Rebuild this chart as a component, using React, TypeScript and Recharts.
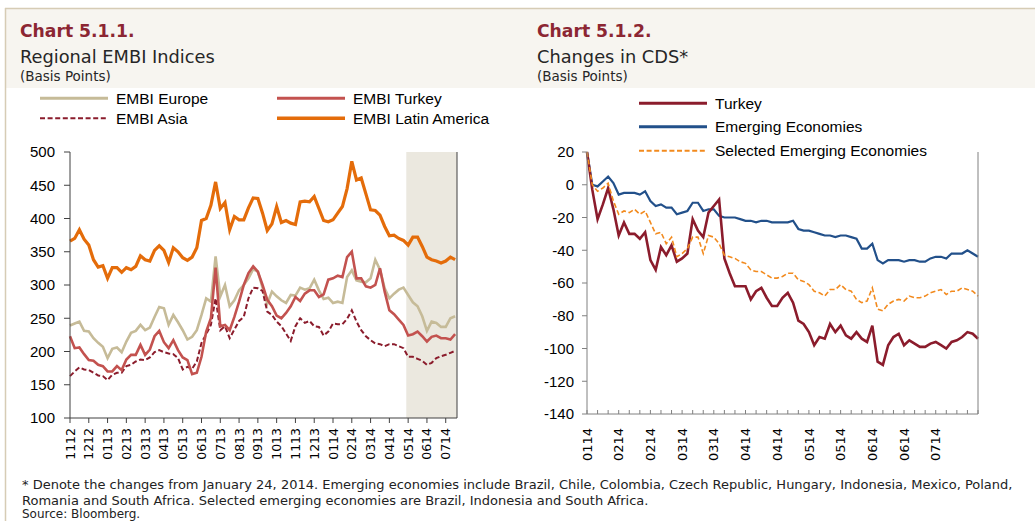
import { LineChart, Line, XAxis, YAxis, ReferenceArea } from 'recharts'

// ---- Chart 5.1.1: Regional EMBI indices, weekly readings (4 per month) ----
const embiMonths = [
  '1112', '1212', '0113', '0213', '0313', '0413', '0513', '0613', '0713', '0813', '0913',
  '1013', '1113', '1213', '0114', '0214', '0314', '0414', '0514', '0614', '0714',
]
const embiTicks = [100, 150, 200, 250, 300, 350, 400, 450, 500]

const embiEurope = [
  239, 242, 245, 231, 230, 220, 213, 207, 190, 204,
  206, 199, 215, 228, 231, 240, 232, 236, 252, 267,
  265, 240, 255, 244, 232, 218, 222, 232, 255, 280,
  275, 343, 283, 300, 268, 277, 292, 300, 310, 324,
  320, 296, 272, 290, 283, 277, 273, 285, 284, 296,
  293, 295, 308, 292, 279, 281, 273, 275, 273, 312,
  322, 307, 305, 304, 310, 338, 323, 295, 280, 287,
  293, 296, 285, 274, 268, 253, 231, 245, 243, 237,
  237, 250, 253,
]
const embiTurkey = [
  223, 205, 206, 196, 187, 186, 180, 178, 170, 170,
  178, 172, 188, 195, 195, 210, 195, 203, 223, 231,
  214, 205, 217, 202, 191, 187, 166, 168, 192, 230,
  250, 326, 238, 240, 232, 252, 275, 300, 318, 328,
  320, 300, 278, 268, 254, 250, 258, 268, 282, 276,
  287, 292, 292, 282, 286, 308, 310, 314, 312, 342,
  350, 310, 310, 298, 296, 300, 325, 290, 262, 256,
  248, 240, 224, 226, 230, 223, 215, 222, 224, 220,
  220, 218, 226,
]
const embiAsia = [
  163, 170, 176, 173, 172, 168, 164, 163, 157, 165,
  168, 168, 178, 180, 185, 188, 187, 191, 199, 202,
  199, 197, 196, 190, 173, 177, 174, 185, 213, 226,
  240, 280, 232, 238, 220, 233, 246, 252, 280, 296,
  295, 291, 260, 255, 245, 238, 227, 216, 238, 250,
  243, 246, 238, 237, 224, 230, 242, 241, 241, 249,
  262, 245, 232, 223, 217, 212, 211, 208, 211, 211,
  208, 205, 192, 192, 189, 186, 180, 183, 190, 193,
  195, 198, 201,
]
const embiLatam = [
  366, 370, 383, 369, 360, 338, 327, 329, 310, 326,
  326, 319, 326, 323, 328, 344, 338, 336, 352, 359,
  352, 334, 356, 350, 341, 337, 342, 356, 397, 400,
  420, 455, 415, 424, 383, 403, 398, 398, 416, 431,
  430, 408, 382, 392, 418, 394, 397, 393, 391, 425,
  426, 425, 433, 415, 397, 395, 398, 408, 418, 445,
  486, 458, 461, 437, 413, 412, 405, 388, 374, 375,
  370, 367, 360, 372, 372, 358, 342, 338, 336, 333,
  336, 342, 338,
]

// ---- Chart 5.1.2: changes in CDS, one reading every ~1.7 business days ----
const cdsDates = ['0114', '0214', '0214', '0314', '0314', '0414', '0414', '0514', '0514', '0614', '0614', '0714']
const cdsTicks = [20, 0, -20, -40, -60, -80, -100, -120, -140]

const cdsTurkey = [
  20, -3, -21, -12, -2, -15, -31, -23, -30, -30,
  -33, -29, -46, -52, -38, -43, -37, -47, -45, -42,
  -21, -28, -32, -17, -13, -9, -45, -54, -62, -62,
  -62, -70, -65, -63, -69, -74, -74, -69, -66, -72,
  -83, -85, -90, -98, -93, -94, -85, -90, -86, -92,
  -94, -90, -94, -96, -86, -108, -110, -98, -93, -91,
  -98, -95, -97, -99, -99, -97, -96, -98, -100, -96,
  -95, -93, -90, -91, -94,
]
const cdsEmerging = [
  20, 0, -1, 2, 5, 1, -6, -5, -5, -5,
  -6, -4, -10, -13, -12, -14, -14, -18, -17, -16,
  -11, -11, -16, -15, -15, -19, -20, -20, -20, -21,
  -22, -22, -23, -22, -22, -23, -23, -23, -23, -22,
  -27, -28, -28, -29, -30, -31, -31, -32, -31, -31,
  -32, -33, -39, -39, -36, -46, -48, -46, -46, -46,
  -47, -46, -46, -47, -47, -45, -44, -44, -45, -42,
  -42, -42, -40, -42, -44,
]
const cdsSelected = [
  20, 0, -4, -2, 1, -10, -18, -16, -17, -15,
  -18, -16, -23, -30, -29, -36, -32, -44, -42, -39,
  -32, -32, -42, -31, -32, -36, -43, -44, -45, -47,
  -48, -52, -53, -53, -55, -57, -57, -56, -54, -54,
  -58, -59, -61, -65, -66, -68, -64, -64, -61, -64,
  -65, -70, -72, -71, -63, -76, -77, -73, -71, -70,
  -71, -68, -69, -69, -68, -66, -65, -64, -67, -65,
  -65, -63, -64, -65, -68,
]

const embiData = embiEurope.map((v, i) => ({
  t: i / 4,
  europe: v,
  turkey: embiTurkey[i],
  asia: embiAsia[i],
  latam: embiLatam[i],
}))

const cdsData = cdsTurkey.map((v, i) => ({
  t: i,
  turkey: v,
  emerging: cdsEmerging[i],
  selected: cdsSelected[i],
}))

const cdsTickPositions = Array.from({ length: 38 }, (_, i) => i * 2)

const MAROON = '#8C2633'
const TAN = '#C6BB98'
const RED = '#C3524F'
const ORANGE = '#E46C0A'
const DARK_RED = '#8B1C2C'
const BLUE = '#22508A'
const LIGHT_ORANGE = '#F28A1E'

const titleFont = '"DejaVu Sans", sans-serif'
const axisFont = '"Liberation Sans", Arial, sans-serif'

const EMBI_AXIS_Y = 278
const CDS_AXIS_Y = 274

function EmbiTick(props: any) {
  const { x, payload } = props
  const y = EMBI_AXIS_Y + 10
  return (
    <text
      x={x}
      y={y}
      dy="0.36em"
      textAnchor="end"
      transform={`rotate(-90 ${x} ${y})`}
      fontFamily={titleFont}
      fontSize={12.5}
      fill="#000"
    >
      {embiMonths[payload.value]}
    </text>
  )
}

function CdsTick(props: any) {
  const { x, payload } = props
  const i = payload.value as number
  const label = i % 6 === 0 ? cdsDates[i / 6] : null
  const y = CDS_AXIS_Y + 14
  return (
    <g>
      <line x1={x} x2={x} y1={CDS_AXIS_Y} y2={CDS_AXIS_Y - 4} stroke="#808080" strokeWidth={1} />
      {label && (
        <text
          x={x}
          y={y}
          dy="0.36em"
          textAnchor="end"
          transform={`rotate(-90 ${x} ${y})`}
          fontFamily={titleFont}
          fontSize={13}
          fill="#000"
        >
          {label}
        </text>
      )}
    </g>
  )
}

function LegendRow({ x, y, color, width, dash, label }: any) {
  return (
    <g>
      <line x1={x} x2={x + 68} y1={y} y2={y} stroke={color} strokeWidth={width} strokeDasharray={dash} />
      <text x={x + 76} y={y + 5.5} fontFamily={axisFont} fontSize={15.5} fill="#000">
        {label}
      </text>
    </g>
  )
}

function Decorations() {
  return (
    <svg width={1035} height={521} style={{ position: 'absolute', left: 0, top: 0 }}>
      <rect x={6} y={9} width={1029} height={79} fill="#F7F5F0" />
      <line x1={5} x2={1035} y1={8.5} y2={8.5} stroke="#D6CCB5" strokeWidth={1.5} />
      <line x1={5.5} x2={5.5} y1={8} y2={521} stroke="#D6CCB5" strokeWidth={1.5} />

      <text x={20} y={36.5} fontFamily={titleFont} fontWeight="bold" fontSize={17.2} fill={MAROON}>
        Chart 5.1.1.
      </text>
      <text x={20} y={62.5} fontFamily={titleFont} fontSize={17.8} fill="#262626">
        Regional EMBI Indices
      </text>
      <text x={20} y={81} fontFamily={titleFont} fontSize={13.5} fill="#262626">
        (Basis Points)
      </text>

      <text x={537} y={36.5} fontFamily={titleFont} fontWeight="bold" fontSize={17.2} fill={MAROON}>
        Chart 5.1.2.
      </text>
      <text x={537} y={62.5} fontFamily={titleFont} fontSize={17.8} fill="#262626">
        Changes in CDS*
      </text>
      <text x={537} y={81} fontFamily={titleFont} fontSize={13.5} fill="#262626">
        (Basis Points)
      </text>

      <LegendRow x={40} y={98.3} color={TAN} width={3} label="EMBI Europe" />
      <LegendRow x={40} y={118.3} color={DARK_RED} width={2} dash="5 2.6" label="EMBI Asia" />
      <LegendRow x={277} y={98.3} color={RED} width={3} label="EMBI Turkey" />
      <LegendRow x={277} y={118.3} color={ORANGE} width={3.5} label="EMBI Latin America" />

      <LegendRow x={639} y={103.3} color={DARK_RED} width={3} label="Turkey" />
      <LegendRow x={639} y={126.7} color={BLUE} width={3} label="Emerging Economies" />
      <LegendRow x={639} y={150.7} color={LIGHT_ORANGE} width={2} dash="5 2.6" label="Selected Emerging Economies" />

      <text x={22} y={489} fontFamily={titleFont} fontSize={13} fill="#222">
        * Denote the changes from January 24, 2014. Emerging economies include Brazil, Chile, Colombia, Czech Republic, Hungary, Indonesia, Mexico, Poland,
      </text>
      <text x={22} y={505} fontFamily={titleFont} fontSize={13} fill="#222">
        Romania and South Africa. Selected emerging economies are Brazil, Indonesia and South Africa.
      </text>
      <text x={22} y={518} fontFamily={titleFont} fontSize={12} fill="#222">
        Source: Bloomberg.
      </text>
    </svg>
  )
}

export default function App() {
  return (
    <div
      style={{
        position: 'absolute',
        left: 0,
        top: 0,
        width: 1035,
        height: 521,
        overflow: 'hidden',
        background: '#fff',
      }}
    >
      <Decorations />

      <div style={{ position: 'absolute', left: 0, top: 140 }}>
        <LineChart width={520} height={340} data={embiData} margin={{ top: 12, right: 0, left: 0, bottom: 0 }}>
          <XAxis
            dataKey="t"
            type="number"
            domain={[0, 20.6]}
            ticks={embiMonths.map((_, i) => i)}
            interval={0}
            height={62}
            tickSize={5}
            tickLine={{ stroke: '#404040' }}
            axisLine={{ stroke: '#404040' }}
            tick={<EmbiTick />}
          />
          <YAxis
            yAxisId="l"
            domain={[100, 500]}
            ticks={embiTicks}
            interval={0}
            width={70}
            tickSize={6}
            tickMargin={9}
            axisLine={{ stroke: '#404040' }}
            tickLine={{ stroke: '#404040' }}
            tick={{ fontFamily: axisFont, fontSize: 15, fill: '#000' }}
          />
          <YAxis
            yAxisId="r"
            orientation="right"
            domain={[100, 500]}
            ticks={embiTicks}
            interval={0}
            width={63}
            tickSize={5}
            tickMargin={7}
            axisLine={{ stroke: '#404040' }}
            tickLine={{ stroke: '#404040' }}
            tick={{ fontFamily: axisFont, fontSize: 15, fill: '#000' }}
          />
          <ReferenceArea yAxisId="l" x1={17.9} x2={20.6} y1={100} y2={500} fill="#EBE8DF" fillOpacity={1} stroke="none" />
          <Line yAxisId="l" dataKey="europe" stroke={TAN} strokeWidth={2.6} dot={false} type="linear" isAnimationActive={false} />
          <Line yAxisId="l" dataKey="asia" stroke={DARK_RED} strokeWidth={2} strokeDasharray="5 2.6" dot={false} type="linear" isAnimationActive={false} />
          <Line yAxisId="l" dataKey="turkey" stroke={RED} strokeWidth={2.6} dot={false} type="linear" isAnimationActive={false} />
          <Line yAxisId="l" dataKey="latam" stroke={ORANGE} strokeWidth={3.2} dot={false} type="linear" isAnimationActive={false} />
        </LineChart>
      </div>

      <div style={{ position: 'absolute', left: 520, top: 140 }}>
        <LineChart width={515} height={340} data={cdsData} margin={{ top: 12, right: 0, left: 0, bottom: 0 }}>
          <XAxis
            dataKey="t"
            type="number"
            domain={[0, 74]}
            ticks={cdsTickPositions}
            interval={0}
            height={66}
            tickLine={false}
            axisLine={{ stroke: '#808080' }}
            tick={<CdsTick />}
          />
          <YAxis
            yAxisId="l"
            domain={[-140, 20]}
            ticks={cdsTicks}
            interval={0}
            width={67}
            tickSize={5}
            tickMargin={8}
            axisLine={{ stroke: '#808080' }}
            tickLine={{ stroke: '#808080' }}
            tick={{ fontFamily: axisFont, fontSize: 15, fill: '#000' }}
          />
          <YAxis
            yAxisId="r"
            orientation="right"
            domain={[-140, 20]}
            ticks={cdsTicks}
            interval={0}
            width={57}
            tickSize={5}
            tickMargin={7}
            axisLine={{ stroke: '#808080' }}
            tickLine={{ stroke: '#808080' }}
            tick={{ fontFamily: axisFont, fontSize: 15, fill: '#000' }}
          />
          <Line yAxisId="l" dataKey="emerging" stroke={BLUE} strokeWidth={2.2} dot={false} type="linear" isAnimationActive={false} />
          <Line yAxisId="l" dataKey="turkey" stroke={DARK_RED} strokeWidth={2.6} dot={false} type="linear" isAnimationActive={false} />
          <Line yAxisId="l" dataKey="selected" stroke={LIGHT_ORANGE} strokeWidth={1.6} strokeDasharray="5 2.6" dot={false} type="linear" isAnimationActive={false} />
        </LineChart>
      </div>
    </div>
  )
}
